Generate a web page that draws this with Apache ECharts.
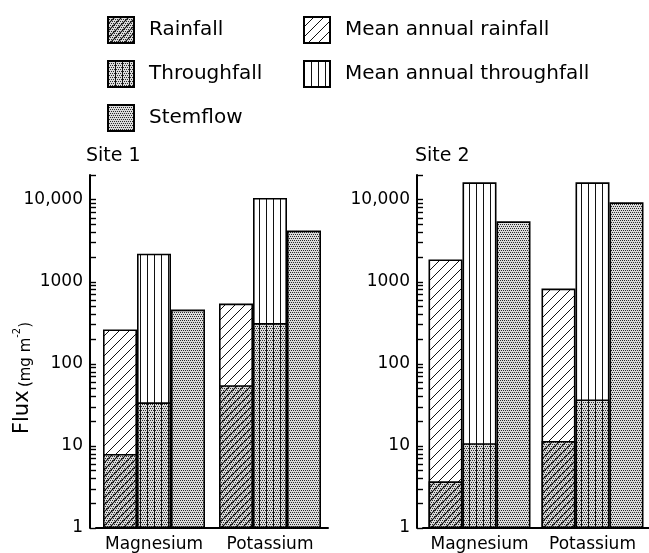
<!DOCTYPE html>
<html><head><meta charset="utf-8">
<script src="https://cdn.jsdelivr.net/npm/echarts@6/dist/echarts.min.js"></script>
<style>html,body{margin:0;padding:0;background:#fff}#c{width:649px;height:553px}</style>
</head><body><div id="c"></div>
<script>
// ---- data ----
const categories = ['Magnesium', 'Potassium'];
const site1Rainfall = [8.0, 55];
const site1MeanRainfall = [262, 542];
const site1Throughfall = [34, 314];
const site1MeanThroughfall = [2200, 10500];
const site1Stemflow = [458, 4210];
const site2Rainfall = [3.7, 11.5];
const site2MeanRainfall = [1870, 826];
const site2Throughfall = [10.8, 36.9];
const site2MeanThroughfall = [16300, 16300];
const site2Stemflow = [5450, 9300];
const yTickValues = [1, 10, 100, 1000, 10000];
const yTickLabels = ['1', '10', '100', '1000', '10,000'];
const yMax = 20000;
const siteTitles = ['Site 1', 'Site 2'];

const FONT = 'DejaVu Sans';
const allTicks = [];
[1, 10, 100, 1000].forEach(d => { for (let k = 1; k <= 9; k++) allTicks.push(k * d); });
allTicks.push(10000, yMax);

// ---- fill patterns ----
function makeTile(w, h, o) {
  const c = document.createElement('canvas'); c.width = w; c.height = h;
  const ctx = c.getContext('2d');
  ctx.fillStyle = '#fff'; ctx.fillRect(0, 0, w, h);
  if (o.stipple) {
    ctx.fillStyle = '#dcdcdc'; ctx.fillRect(0, 0, w, h);
    ctx.fillStyle = '#2a2a2a';
    for (let y = 0; y < h; y += 2) for (let x = (y / 2) % 2; x < w; x += 2) ctx.fillRect(x, y, 1, 1);
  }
  if (o.diag) {
    ctx.strokeStyle = '#111'; ctx.lineWidth = o.lw || 1;
    ctx.beginPath();
    for (let c0 = -w; c0 <= 2 * w + h; c0 += o.diag) { ctx.moveTo(c0 + 2, -2); ctx.lineTo(c0 - h - 2, h + 2); }
    ctx.stroke();
  }
  if (o.vert) {
    ctx.fillStyle = '#111';
    for (let x = 0; x < w; x += o.vert) ctx.fillRect(x, 0, 1, h);
  }
  return { image: c, repeat: 'repeat' };
}
const pat = {
  rain: makeTile(28, 28, { stipple: true, diag: 7, lw: 1.1 }),
  meanRain: makeTile(20, 20, { diag: 10, lw: 1 }),
  through: makeTile(28, 4, { stipple: true, vert: 7 }),
  meanThrough: makeTile(28, 4, { vert: 7 }),
  stem: makeTile(4, 4, { stipple: true })
};
function style(p) { return { color: p, borderColor: '#000', borderWidth: 1.6 }; }

const siteData = [
  { rain: site1Rainfall, meanRain: site1MeanRainfall, through: site1Throughfall, meanThrough: site1MeanThroughfall, stem: site1Stemflow },
  { rain: site2Rainfall, meanRain: site2MeanRainfall, through: site2Throughfall, meanThrough: site2MeanThroughfall, stem: site2Stemflow }
];
const gridLeft = [96, 423];

const grid = [], xAxis = [], yAxis = [], series = [];
siteData.forEach((d, g) => {
  grid.push({ left: gridLeft[g], width: 232, top: 175, bottom: 25, containLabel: false });
  xAxis.push({
    type: 'category', gridIndex: g, data: categories,
    axisLine: { lineStyle: { color: '#000', width: 2 } }, axisTick: { show: false },
    axisLabel: { interval: 0, hideOverlap: false, fontFamily: FONT, fontSize: 17, color: '#000', margin: 8 }
  });
  xAxis.push({ type: 'category', gridIndex: g, data: categories, show: false });
  yAxis.push({
    type: 'log', logBase: 10, gridIndex: g, min: 1, max: yMax, position: 'left', offset: 6,
    axisLine: { show: true, lineStyle: { color: '#000', width: 2 } },
    axisTick: { show: true, inside: true, length: 6, customValues: allTicks, lineStyle: { color: '#000', width: 1.4 } },
    axisLabel: {
      customValues: yTickValues, fontFamily: FONT, fontSize: 17, color: '#000', margin: 7,
      formatter: v => { const i = yTickValues.findIndex(t => Math.abs(t - v) < 1e-6 * t); return i >= 0 ? yTickLabels[i] : ''; }
    },
    splitLine: { show: false }, minorTick: { show: false }
  });
  const xb = g * 2, xo = g * 2 + 1, yi = g;
  const common = { type: 'bar', yAxisIndex: yi, barWidth: 34, barGap: 0, silent: true, animation: false };
  series.push(Object.assign({ name: 'Mean annual rainfall', xAxisIndex: xb, data: d.meanRain, itemStyle: style(pat.meanRain), z: 2 }, common));
  series.push(Object.assign({ name: 'Mean annual throughfall', xAxisIndex: xb, data: d.meanThrough, itemStyle: style(pat.meanThrough), z: 2 }, common));
  series.push(Object.assign({ name: 'Stemflow', xAxisIndex: xb, data: d.stem, itemStyle: style(pat.stem), z: 2 }, common));
  series.push(Object.assign({ name: 'Rainfall', xAxisIndex: xo, data: d.rain, itemStyle: style(pat.rain), z: 3 }, common));
  series.push(Object.assign({ name: 'Throughfall', xAxisIndex: xo, data: d.through, itemStyle: style(pat.through), z: 3 }, common));
  series.push(Object.assign({ name: 'pad', xAxisIndex: xo, data: [], z: 3 }, common));
});

const legendText = { fontFamily: FONT, fontSize: 20, color: '#000', padding: [0, 0, 0, 10] };
const chart = echarts.init(document.getElementById('c'), null, { renderer: 'canvas' });
chart.setOption({
  animation: false,
  backgroundColor: '#fff',
  title: siteTitles.map((t, i) => ({ text: t, left: [86, 415][i], top: 147, padding: 0,
    textStyle: { fontFamily: FONT, fontSize: 19, fontWeight: 'normal', color: '#000' } })),
  legend: [
    { orient: 'vertical', left: 107, top: 16, padding: 0, itemWidth: 26, itemHeight: 26, itemGap: 16, icon: 'rect',
      selectedMode: false, data: ['Rainfall', 'Throughfall', 'Stemflow'], textStyle: legendText },
    { orient: 'vertical', left: 303, top: 16, padding: 0, itemWidth: 26, itemHeight: 26, itemGap: 16, icon: 'rect',
      selectedMode: false, data: ['Mean annual rainfall', 'Mean annual throughfall'], textStyle: legendText }
  ],
  grid, xAxis, yAxis, series,
  graphic: [{
    type: 'text', x: 23, y: 378, rotation: Math.PI / 2,
    style: {
      text: '{a|Flux} {b|(mg m}{c|-2}{b|)}',
      align: 'center', verticalAlign: 'middle', fill: '#000',
      rich: {
        a: { fontFamily: FONT, fontSize: 21, fill: '#000', verticalAlign: 'bottom' },
        b: { fontFamily: FONT, fontSize: 15, fill: '#000', verticalAlign: 'bottom' },
        c: { fontFamily: FONT, fontSize: 10, fill: '#000', verticalAlign: 'top' }
      }
    }
  }]
});
</script></body></html>
